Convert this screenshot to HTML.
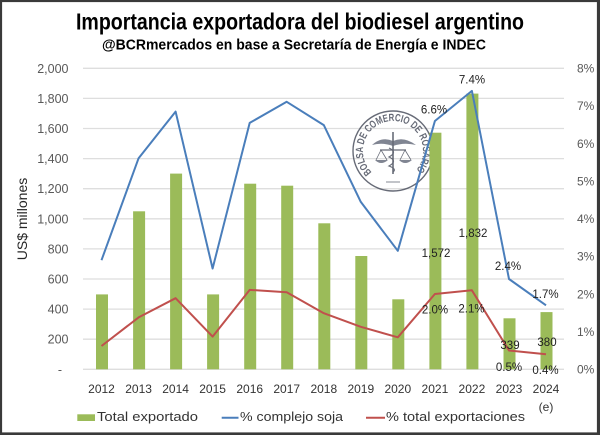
<!DOCTYPE html>
<html><head><meta charset="utf-8"><style>
html,body{margin:0;padding:0;background:#fff;}
svg{display:block;}
text{font-family:"Liberation Sans",Arial,sans-serif;}
</style></head><body>
<svg width="600" height="435" viewBox="0 0 600 435" xmlns="http://www.w3.org/2000/svg">
<rect x="0" y="0" width="600" height="435" fill="#fff"/>
<!-- title -->
<text x="76" y="29.3" font-size="23" font-weight="bold" fill="#000" textLength="448" lengthAdjust="spacingAndGlyphs" style="font-family:'Liberation Sans Narrow','Liberation Sans',sans-serif">Importancia exportadora del biodiesel argentino</text>
<text x="102" y="49.5" font-size="14.5" font-weight="bold" fill="#000" textLength="384" lengthAdjust="spacingAndGlyphs" style="font-family:'Liberation Sans Narrow','Liberation Sans',sans-serif">@BCRmercados en base a Secretaría de Energía e INDEC</text>

<!-- gridlines -->
<g stroke="#dedede" stroke-width="1.3">
<line x1="83" x2="564" y1="68.3" y2="68.3"/>
<line x1="83" x2="564" y1="98.4" y2="98.4"/>
<line x1="83" x2="564" y1="128.5" y2="128.5"/>
<line x1="83" x2="564" y1="158.6" y2="158.6"/>
<line x1="83" x2="564" y1="188.7" y2="188.7"/>
<line x1="83" x2="564" y1="218.8" y2="218.8"/>
<line x1="83" x2="564" y1="248.9" y2="248.9"/>
<line x1="83" x2="564" y1="279.0" y2="279.0"/>
<line x1="83" x2="564" y1="309.1" y2="309.1"/>
<line x1="83" x2="564" y1="339.2" y2="339.2"/>
<line x1="83" x2="564" y1="369.3" y2="369.3"/>
</g>

<!-- left axis labels -->
<g font-size="12.5" fill="#595959" text-anchor="end">
<text x="68.5" y="72.8">2,000</text>
<text x="68.5" y="102.9">1,800</text>
<text x="68.5" y="133">1,600</text>
<text x="68.5" y="163.1">1,400</text>
<text x="68.5" y="193.2">1,200</text>
<text x="68.5" y="223.3">1,000</text>
<text x="68.5" y="253.4">800</text>
<text x="68.5" y="283.5">600</text>
<text x="68.5" y="313.6">400</text>
<text x="68.5" y="343.7">200</text>
<text x="62" y="373.8">-</text>
</g>
<text transform="translate(27,219) rotate(-90)" font-size="14" fill="#262626" text-anchor="middle">US$ millones</text>

<!-- right axis labels -->
<g font-size="12" fill="#595959">
<text x="577" y="72.6">8%</text>
<text x="577" y="110.2">7%</text>
<text x="577" y="147.9">6%</text>
<text x="577" y="185.5">5%</text>
<text x="577" y="223.1">4%</text>
<text x="577" y="260.7">3%</text>
<text x="577" y="298.4">2%</text>
<text x="577" y="336">1%</text>
<text x="577" y="373.6">0%</text>
</g>

<!-- seal watermark -->
<g opacity="0.85" fill="none" stroke="#4d5260">
<circle cx="393" cy="151" r="40" stroke-width="1.4"/>
<path id="sealarc" d="M371.8,172.2 A30,30 0 1 1 414.2,172.2" stroke="none"/>
<text font-size="10.5" font-weight="bold" fill="#4d5260" stroke="none"><textPath href="#sealarc" textLength="138" lengthAdjust="spacingAndGlyphs">BOLSA DE COMERCIO DE ROSARIO</textPath></text>
<path d="M372,145 Q382,136 393,141 Q404,136 416,145 Q404,142 393,146 Q382,142 372,145 Z" fill="#6b7080" stroke="none"/>
<line x1="393" y1="132" x2="393" y2="174" stroke-width="1.6"/>
<path d="M389,148 Q398,152 389,157 Q398,161 389,166 Q397,169 393,172" stroke-width="1.2"/>
<line x1="380" y1="150" x2="406" y2="150" stroke-width="1.2"/>
<line x1="381" y1="150" x2="376" y2="160" stroke-width="0.8"/>
<line x1="381" y1="150" x2="387" y2="160" stroke-width="0.8"/>
<line x1="405" y1="150" x2="400" y2="160" stroke-width="0.8"/>
<line x1="405" y1="150" x2="411" y2="160" stroke-width="0.8"/>
<path d="M375,160 Q381,166 388,160 Z" fill="#6b7080" stroke="none"/>
<path d="M399,160 Q405,166 412,160 Z" fill="#6b7080" stroke="none"/>
<line x1="386" y1="182" x2="400" y2="182" stroke-width="0.8"/>
</g>

<!-- bars -->
<g fill="#9bbb59">
<rect x="96" y="294.4" width="12" height="74.9"/>
<rect x="133.1" y="211.3" width="12" height="158"/>
<rect x="170.1" y="173.6" width="12" height="195.7"/>
<rect x="207.1" y="294.4" width="12" height="74.9"/>
<rect x="244.2" y="183.7" width="12" height="185.6"/>
<rect x="281.2" y="185.7" width="12" height="183.6"/>
<rect x="318.3" y="223.3" width="12" height="146"/>
<rect x="355.3" y="256" width="12" height="113.3"/>
<rect x="392.3" y="299.3" width="12" height="70"/>
<rect x="429.4" y="132.7" width="12" height="236.6"/>
<rect x="466.4" y="93.6" width="12" height="275.7"/>
<rect x="503.5" y="318.3" width="12" height="51"/>
<rect x="540.5" y="312.1" width="12" height="57.2"/>
</g>

<!-- lines -->
<polyline fill="none" stroke="#4a7ebb" stroke-width="2" stroke-linejoin="round" points="101.5,260.2 138.6,158.2 175.6,111.6 212.6,268.5 249.7,122.9 286.7,101.8 323.8,125.1 360.8,201.9 397.8,250.8 434.9,121 471.9,90.9 509,279 546,305.3"/>
<polyline fill="none" stroke="#c0504d" stroke-width="2" stroke-linejoin="round" points="101.5,346 138.6,317.4 175.6,298.2 212.6,336.6 249.7,289.9 286.7,292.2 323.8,313.2 360.8,326.8 397.8,337.3 434.9,294 471.9,290.3 509,350.5 546,354.2"/>

<!-- data labels -->
<g font-size="11.5" fill="#222" text-anchor="middle">
<text x="434" y="113.5">6.6%</text>
<text x="472" y="83.5">7.4%</text>
<text x="436" y="257">1,572</text>
<text x="473" y="237">1,832</text>
<text x="435" y="313.5">2.0%</text>
<text x="471.5" y="312.5">2.1%</text>
<text x="508" y="270">2.4%</text>
<text x="545.5" y="298">1.7%</text>
<text x="510" y="349">339</text>
<text x="547" y="346">380</text>
<text x="509" y="371">0.5%</text>
<text x="545.5" y="374">0.4%</text>
</g>

<!-- x labels -->
<g font-size="12" fill="#333" text-anchor="middle">
<text x="101.5" y="393">2012</text>
<text x="138.6" y="393">2013</text>
<text x="175.6" y="393">2014</text>
<text x="212.6" y="393">2015</text>
<text x="249.7" y="393">2016</text>
<text x="286.7" y="393">2017</text>
<text x="323.8" y="393">2018</text>
<text x="360.8" y="393">2019</text>
<text x="397.8" y="393">2020</text>
<text x="434.9" y="393">2021</text>
<text x="471.9" y="393">2022</text>
<text x="509" y="393">2023</text>
<text x="546" y="393">2024</text>
<text x="546" y="411">(e)</text>
</g>

<!-- legend -->
<rect x="77.3" y="414.3" width="17.7" height="6.7" fill="#9bbb59"/>
<text x="97" y="421" font-size="13" fill="#333" textLength="101" lengthAdjust="spacingAndGlyphs">Total exportado</text>
<line x1="221.7" y1="417.7" x2="238.5" y2="417.7" stroke="#4a7ebb" stroke-width="2"/>
<text x="240" y="421" font-size="13" fill="#333" textLength="103" lengthAdjust="spacingAndGlyphs">% complejo soja</text>
<line x1="366" y1="417.7" x2="385" y2="417.7" stroke="#c0504d" stroke-width="2"/>
<text x="386" y="421" font-size="13" fill="#333" textLength="139" lengthAdjust="spacingAndGlyphs">% total exportaciones</text>

<!-- frame -->
<rect x="1" y="1" width="597" height="432.5" fill="none" stroke="#3a3a3a" stroke-width="2.2"/>
<line x1="598.5" y1="0" x2="598.5" y2="435" stroke="#3a3a3a" stroke-width="3"/>
<line x1="0" y1="433.8" x2="600" y2="433.8" stroke="#3a3a3a" stroke-width="2.5"/>
</svg>
</body></html>
